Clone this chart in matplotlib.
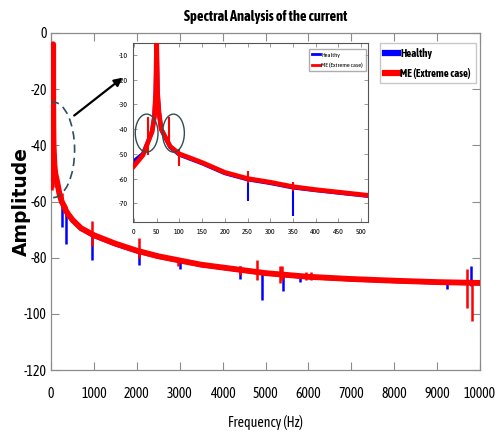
import matplotlib
matplotlib.use("Agg")
import matplotlib.pyplot as plt
from matplotlib.patches import Ellipse
from matplotlib import font_manager
import matplotlib.patheffects as pe

# ---------------- data ----------------
freq = [0, 20, 40, 45, 48, 50, 52, 55, 60, 80, 100, 150, 200, 250, 300, 350, 400, 450,
        510, 700, 1000, 1500, 2000, 2500, 3000, 3500, 4000, 4500, 5000, 6000, 7000,
        8000, 9000, 10000]
healthy = [-53, -50, -41, -35, -25, -4, -25, -33, -40, -47.3, -50.3, -53.8, -57.8, -60.3,
           -61.8, -63.6, -64.7, -65.7, -66.9, -69.7, -72.2, -75.2, -77.7, -79.6, -81.1,
           -82.6, -83.6, -84.6, -85.6, -86.9, -87.7, -88.3, -88.8, -89.1]
me = [-55, -50.5, -41, -35, -25, -4, -25, -33, -40, -47, -50, -53.5, -57.5, -60,
      -61.5, -63.3, -64.5, -65.5, -66.7, -69.5, -72, -75, -77.5, -79.5, -81, -82.5,
      -83.5, -84.5, -85.5, -86.8, -87.6, -88.2, -88.7, -89]

# spikes: frequency, upper value, lower value
healthy_spike_f = [250, 350, 950, 2050, 3000, 4400, 4930, 5400, 5800, 9230, 9790]
healthy_spike_hi = [-60, -63, -72, -77, -80, -83, -85, -85.5, -86, -88, -83]
healthy_spike_lo = [-69, -75, -81, -82.5, -84, -87.5, -95, -92, -88.5, -91, -90]

me_spike_f = [30, 77, 100, 250, 350, 950, 2050, 2950, 4400, 4810, 5340, 5380, 5950,
              6050, 9700, 9810]
me_spike_hi = [-35, -35, -48, -57, -61.5, -67, -73, -80, -83, -81, -83, -83, -85,
               -85, -84, -89]
me_spike_lo = [-50.5, -47, -55, -62, -65, -76, -80, -83, -86, -88, -89, -88, -88,
               -88, -98, -102.5]

series_labels = ["Healthy", "ME (Extreme case)"]
main_xticks = list(range(0, 10001, 1000))
main_yticks = list(range(-120, 1, 20))
inset_xticks = list(range(0, 501, 50))
inset_yticks = list(range(-70, -9, 10))

# ---------------- fonts ----------------
def _wnum(w):
    if isinstance(w, (int, float)):
        return w
    return {"bold": 700, "heavy": 800, "black": 900, "semibold": 600,
            "demibold": 600, "extra bold": 800}.get(str(w).lower(), 400)

fams = {}
for e in font_manager.fontManager.ttflist:
    if "Narrow" in e.name or "Condensed" in e.name:
        fams.setdefault(e.name, set()).add(_wnum(e.weight))
narrow_family = None
has_bold = False
order = sorted(fams, key=lambda n: (0 if "Liberation Sans Narrow" == n else 1, n))
for n in order:
    if max(fams[n]) >= 600:
        narrow_family, has_bold = n, True
        break
if narrow_family is None and order:
    narrow_family = order[0]
if narrow_family is None:
    narrow_family = "Liberation Sans"

plt.rcParams["font.family"] = [narrow_family, "DejaVu Sans"]
plt.rcParams["axes.unicode_minus"] = False
fake_bold = [] if has_bold else [pe.withStroke(linewidth=0.7, foreground="black")]

BLUE = "#0000ff"
RED = "#ff0000"
SPINE = "#8c8c8c"

fig = plt.figure(figsize=(4.96, 4.34), dpi=100)
ax = fig.add_axes([51 / 496, 1 - 370 / 434, (480 - 51) / 496, (370 - 33) / 434])

ax.plot(freq, healthy, color=BLUE, lw=3.2, label=series_labels[0], zorder=2)
ax.vlines(healthy_spike_f, healthy_spike_lo, healthy_spike_hi, color=BLUE, lw=1.8, zorder=2)
ax.plot(freq, me, color=RED, lw=4.2, label=series_labels[1], zorder=3)
ax.vlines(me_spike_f, me_spike_lo, me_spike_hi, color=RED, lw=1.8, zorder=3)

ax.set_xlim(0, 10000)
ax.set_ylim(-120, 0)
ax.set_xticks(main_xticks)
ax.set_yticks(main_yticks)
ax.tick_params(direction="in", length=6, width=0.8, color=SPINE, top=True, right=True,
               labelsize=10)
ax.tick_params(axis="x", pad=12)
ax.tick_params(axis="y", pad=3)
for s in ax.spines.values():
    s.set_color(SPINE)
    s.set_linewidth(0.9)
t = ax.set_title("Spectral Analysis of the current", fontsize=10.4, fontweight="bold", pad=9)
t.set_path_effects(fake_bold)
ax.set_xlabel("Frequency (Hz)", fontsize=10, labelpad=10)
ax.set_ylabel("Amplitude", fontsize=13.5, fontweight="bold", family="DejaVu Sans")
ax.yaxis.set_label_coords(-0.048, 0.5)

# dashed ellipse around the 50 Hz region
ax.add_patch(Ellipse((50, -41.6), 1000, 34, fill=False, ls=(0, (5, 3)), lw=1.2,
                     edgecolor="#2f4f5f", zorder=4))
ax.annotate("", xy=(1720, -15.3), xytext=(490, -30),
            arrowprops=dict(arrowstyle="-|>", color="black", lw=1.6, mutation_scale=12),
            zorder=5)

# ---------------- inset ----------------
ins = fig.add_axes([133 / 496, 1 - 222 / 434, (368 - 133) / 496, (222 - 43) / 434])
ins.plot(freq, healthy, color=BLUE, lw=3.0, label=series_labels[0], zorder=2)
ins.vlines(healthy_spike_f, healthy_spike_lo, healthy_spike_hi, color=BLUE, lw=1.5, zorder=2)
ins.plot(freq, me, color=RED, lw=3.4, label=series_labels[1], zorder=3)
ins.vlines(me_spike_f, me_spike_lo, me_spike_hi, color=RED, lw=1.5, zorder=3)
ins.set_xlim(-2, 515)
ins.set_ylim(-77.6, -5.1)
ins.set_xticks(inset_xticks)
ins.set_yticks(inset_yticks)
ins.tick_params(direction="in", length=3, width=0.6, color=SPINE, top=True, right=True,
                labelsize=5.5, pad=4)
for s in ins.spines.values():
    s.set_color("#555555")
    s.set_linewidth(0.8)
ileg = ins.legend(loc="upper right", bbox_to_anchor=(0.99, 0.965), fontsize=4.6,
                  frameon=True, fancybox=False, edgecolor="#999999", handlelength=1.2,
                  handletextpad=0.2, borderpad=0.45, labelspacing=0.8, borderaxespad=0.0)
for h in ileg.get_lines():
    h.set_linewidth(2)
ins.add_patch(Ellipse((28, -41.6), 50, 15.4, fill=False, lw=1.0, edgecolor="#2f4f4f", zorder=4))
ins.add_patch(Ellipse((87, -41.6), 48, 15.4, fill=False, lw=1.0, edgecolor="#2f4f4f", zorder=4))

# main legend drawn at figure level so it sits above the inset
handles, labels = ax.get_legend_handles_labels()
leg = fig.legend(handles, labels, loc="upper left", bbox_to_anchor=(380 / 496, 1 - 43 / 434),
                 frameon=True, fancybox=False, edgecolor="#bbbbbb",
                 handlelength=1.2, handletextpad=0.2, borderpad=0.45, labelspacing=0.8,
                 borderaxespad=0.0, prop={"family": [narrow_family, "DejaVu Sans"],
                                          "weight": "bold", "size": 7.8})
for h in leg.get_lines():
    h.set_linewidth(4.5)
for txt in leg.get_texts():
    txt.set_path_effects(fake_bold)

fig.savefig("out.png", dpi=100)
